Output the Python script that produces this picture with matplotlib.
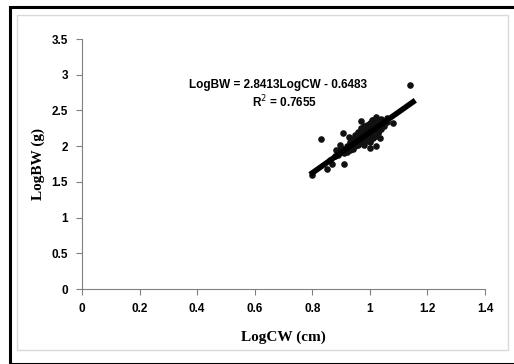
import matplotlib.pyplot as plt
from matplotlib.patches import Rectangle
import numpy as np

# scatter data (LogCW, LogBW)
log_cw = [0.80, 0.83, 0.85, 0.87, 0.91, 0.88, 0.89, 0.90, 0.90, 0.91,
          0.92, 0.92, 0.93, 0.93, 0.94, 0.94, 0.94, 0.95, 0.95, 0.95,
          0.96, 0.96, 0.96, 0.96, 0.97, 0.97, 0.97, 0.97, 0.98, 0.98,
          0.98, 0.98, 0.98, 0.99, 0.99, 0.99, 0.99, 1.00, 1.00, 1.00,
          1.00, 1.00, 1.01, 1.01, 1.01, 1.01, 1.02, 1.02, 1.02, 1.02,
          1.03, 1.03, 1.03, 1.04, 1.04, 1.05, 1.05, 1.06, 1.08, 1.14,
          0.907, 0.928, 0.969, 0.896, 1.035, 1.023, 1.00, 0.884, 1.006, 1.023,
          0.86, 0.89, 0.92, 0.95, 0.97, 0.99, 1.01, 1.03, 0.94, 0.96,
          0.98, 1.00, 1.02, 0.93, 0.95, 0.97, 0.99, 1.04, 1.06, 0.91]
log_bw = [1.60, 2.10, 1.68, 1.75, 1.75, 1.86, 1.90, 1.92, 1.98, 1.95,
          2.00, 1.96, 2.02, 2.06, 2.04, 2.10, 1.99, 2.08, 2.12, 2.02,
          2.10, 2.15, 2.05, 2.20, 2.12, 2.18, 2.08, 2.25, 2.14, 2.20,
          2.10, 2.28, 2.05, 2.16, 2.22, 2.30, 2.10, 2.18, 2.24, 2.12,
          2.32, 2.06, 2.20, 2.28, 2.15, 2.36, 2.22, 2.30, 2.14, 2.38,
          2.26, 2.34, 2.20, 2.30, 2.38, 2.35, 2.28, 2.40, 2.32, 2.86,
          2.18, 2.13, 2.35, 2.02, 2.11, 2.00, 1.97, 1.95, 2.37, 2.41,
          1.80, 1.88, 1.92, 2.00, 2.04, 2.08, 2.12, 2.18, 1.96, 2.02,
          2.02, 2.08, 2.26, 1.94, 2.16, 2.22, 2.26, 2.24, 2.34, 1.90]

slope = 2.8413
intercept = -0.6483
fit_x = [0.80, 1.15]

x_ticks = [0, 0.2, 0.4, 0.6, 0.8, 1, 1.2, 1.4]
y_ticks = [0, 0.5, 1, 1.5, 2, 2.5, 3, 3.5]

sans = ['Liberation Sans Narrow', 'Liberation Sans', 'DejaVu Sans']
serif = ['Liberation Serif', 'DejaVu Serif']

fig = plt.figure(figsize=(5.14, 3.64), dpi=100)
W, H = 514, 364

# outer black frame and inner grey chart area border
fig.patches.append(Rectangle((10 / W, 0), 1, (364 - 7) / H, transform=fig.transFigure,
                             fill=False, edgecolor='black', linewidth=2.2))
fig.patches.append(Rectangle((17 / W, (364 - 350) / H), (508 - 17) / W, (350 - 15) / H,
                             transform=fig.transFigure, fill=False,
                             edgecolor='#d9d9d9', linewidth=1))

ax = fig.add_axes([82 / W, 75 / H, (485 - 82) / W, (289 - 39) / H])

ax.scatter(log_cw, log_bw, s=14, color='#111111', zorder=3)
fx = np.array(fit_x)
ax.plot(fx, slope * fx + intercept, color='black', linewidth=4, zorder=4)

ax.set_xlim(0, 1.4)
ax.set_ylim(0, 3.5)
ax.set_xticks(x_ticks)
ax.set_yticks(y_ticks)
ax.set_xticklabels([f'{v:g}' for v in x_ticks], fontfamily=sans, fontweight='bold', fontsize=8.5)
ax.set_yticklabels([f'{v:g}' for v in y_ticks], fontfamily=sans, fontweight='bold', fontsize=8.5)
ax.tick_params(direction='out', length=4, color='#808080', pad=6)

for side in ['top', 'right']:
    ax.spines[side].set_visible(False)
for side in ['left', 'bottom']:
    ax.spines[side].set_color('#808080')

ax.set_xlabel('LogCW (cm)', fontfamily=serif, fontweight='bold', fontsize=11, labelpad=11)
ax.set_ylabel('LogBW (g)', fontfamily=serif, fontweight='bold', fontsize=11, labelpad=5)

ax.text(0.37, 2.85, 'LogBW = 2.8413LogCW - 0.6483', fontfamily=sans, fontweight='bold',
        fontsize=8.5, ha='left', va='center')
ax.text(0.59, 2.62, 'R$^2$ = 0.7655', fontfamily=sans, fontweight='bold',
        fontsize=8.5, ha='left', va='center')

fig.savefig('out.png', dpi=100)
